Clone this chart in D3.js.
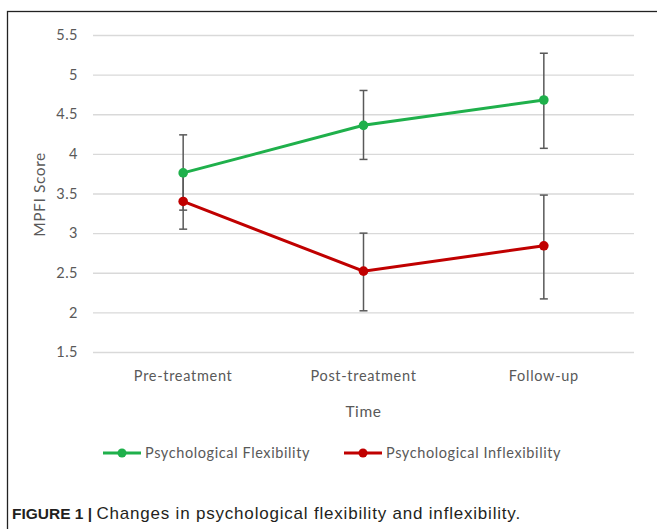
<!DOCTYPE html>
<html>
<head>
<meta charset="utf-8">
<script src="https://cdn.jsdelivr.net/npm/d3@7"></script>
<style>
  html, body { margin: 0; padding: 0; background: #fff; }
  svg text { font-family: Lato, "Open Sans", sans-serif; fill: #595959; }
  .caption text { font-family: "Liberation Sans", Arial, sans-serif; fill: #231f20; }
</style>
</head>
<body>
<div id="chartWrap"></div>
<script>
'use strict'
// data
const categories = ['Pre-treatment', 'Post-treatment', 'Follow-up'];
const flexMean = [3.76, 4.36, 4.68];
const flexLow = [3.29, 3.93, 4.07];
const flexHigh = [4.24, 4.80, 5.27];
const inflexMean = [3.40, 2.52, 2.84];
const inflexLow = [3.05, 2.02, 2.17];
const inflexHigh = [3.76, 3.00, 3.48];
const yTicks = [1.5, 2, 2.5, 3, 3.5, 4, 4.5, 5, 5.5];
const seriesNames = ['Psychological Flexibility', 'Psychological Inflexibility'];

window.addEventListener('DOMContentLoaded', function() {
    let svgWidth = 657,
        svgHeight = 529,
        margin = { top: 35, right: 23, bottom: 177, left: 93 },
        chartWidth = svgWidth - margin.left - margin.right,
        chartHeight = svgHeight - margin.top - margin.bottom;

    const colors = ['#1fb04b', '#c00000'];
    const series = [
        { name: seriesNames[0], mean: flexMean, low: flexLow, high: flexHigh },
        { name: seriesNames[1], mean: inflexMean, low: inflexLow, high: inflexHigh }
    ];

    let svg = d3.select('#chartWrap')
        .append('svg')
        .attr('width', svgWidth)
        .attr('height', svgHeight);

    // outer frame
    svg.append('rect')
        .attr('x', 7.5).attr('y', 11.5)
        .attr('width', 700).attr('height', 600)
        .attr('fill', 'none')
        .attr('stroke', '#222')
        .attr('stroke-width', 1.3);

    let g = svg.append('g')
        .attr('transform', `translate(${margin.left},${margin.top})`);

    const xScale = d3.scaleBand()
        .domain(categories)
        .range([0, chartWidth]);

    const yScale = d3.scaleLinear()
        .domain([1.5, 5.5])
        .range([chartHeight, 0]);

    // grid + y axis
    g.append('g')
        .attr('class', 'axis-y')
        .call(d3.axisLeft(yScale).tickValues(yTicks).tickSize(-chartWidth).tickPadding(15).tickFormat(d => d))
        .call(a => a.select('.domain').remove())
        .call(a => a.selectAll('.tick line').attr('stroke', '#d9d9d9').attr('stroke-width', 1.4))
        .call(a => a.selectAll('.tick text').attr('font-size', 14.5).attr('letter-spacing', 0.5).style('fill', '#595959'));

    // x axis labels
    g.append('g')
        .attr('class', 'axis-x')
        .attr('transform', `translate(0,${chartHeight})`)
        .call(d3.axisBottom(xScale).tickSize(0).tickPadding(19))
        .call(a => a.select('.domain').remove())
        .call(a => a.selectAll('.tick text').attr('font-size', 14.5).attr('letter-spacing', 0.7).style('fill', '#595959'));

    // axis titles
    g.append('text')
        .attr('transform', `translate(-48,${chartHeight / 2 + 1}) rotate(-90)`)
        .attr('text-anchor', 'middle')
        .attr('font-size', 15.5)
        .attr('letter-spacing', 0.6)
        .text('MPFI Score');

    g.append('text')
        .attr('x', chartWidth / 2)
        .attr('y', chartHeight + 65)
        .attr('text-anchor', 'middle')
        .attr('font-size', 15.5)
        .attr('letter-spacing', 0.6)
        .text('Time');

    const cx = c => xScale(c) + xScale.bandwidth() / 2;
    const line = d3.line()
        .x((d, i) => cx(categories[i]))
        .y(d => yScale(d));

    // error bars first, then lines and points
    series.forEach((s) => {
        let eb = g.append('g').attr('class', 'errbars');
        categories.forEach((c, i) => {
            const x = cx(c);
            eb.append('line')
                .attr('x1', x).attr('x2', x)
                .attr('y1', yScale(s.low[i])).attr('y2', yScale(s.high[i]));
            [s.low[i], s.high[i]].forEach(v => {
                eb.append('line')
                    .attr('x1', x - 4).attr('x2', x + 4)
                    .attr('y1', yScale(v)).attr('y2', yScale(v));
            });
        });
        eb.selectAll('line').attr('stroke', '#595959').attr('stroke-width', 1.5);
    });

    series.slice().reverse().forEach((s) => {
        const col = colors[seriesNames.indexOf(s.name)];
        g.append('path')
            .datum(s.mean)
            .attr('d', line)
            .attr('fill', 'none')
            .attr('stroke', col)
            .attr('stroke-width', 3);
        g.selectAll(null)
            .data(s.mean)
            .join('circle')
            .attr('cx', (d, i) => cx(categories[i]))
            .attr('cy', d => yScale(d))
            .attr('r', 4.8)
            .attr('fill', col);
    });

    // legend
    const legendX = [103, 344];
    let legend = svg.append('g').attr('class', 'legend');
    series.forEach((s, i) => {
        let lg = legend.append('g').attr('transform', `translate(${legendX[i]},453)`);
        lg.append('line').attr('x1', 0).attr('x2', 38).attr('y1', 0).attr('y2', 0)
            .attr('stroke', colors[i]).attr('stroke-width', 3);
        lg.append('circle').attr('cx', 19).attr('cy', 0).attr('r', 4.5).attr('fill', colors[i]);
        lg.append('text').attr('x', 42).attr('y', 5).attr('font-size', 14.5).attr('letter-spacing', 0.6).text(s.name);
    });

    // caption
    let cap = svg.append('g').attr('class', 'caption');
    let capText = cap.append('text').attr('x', 12).attr('y', 519);
    capText.append('tspan').attr('font-weight', 'bold').attr('font-size', 15.5).text('FIGURE 1 | ');
    capText.append('tspan').attr('font-size', 17).attr('letter-spacing', 0.8)
        .text('Changes in psychological flexibility and inflexibility.');
});
</script>
</body>
</html>
